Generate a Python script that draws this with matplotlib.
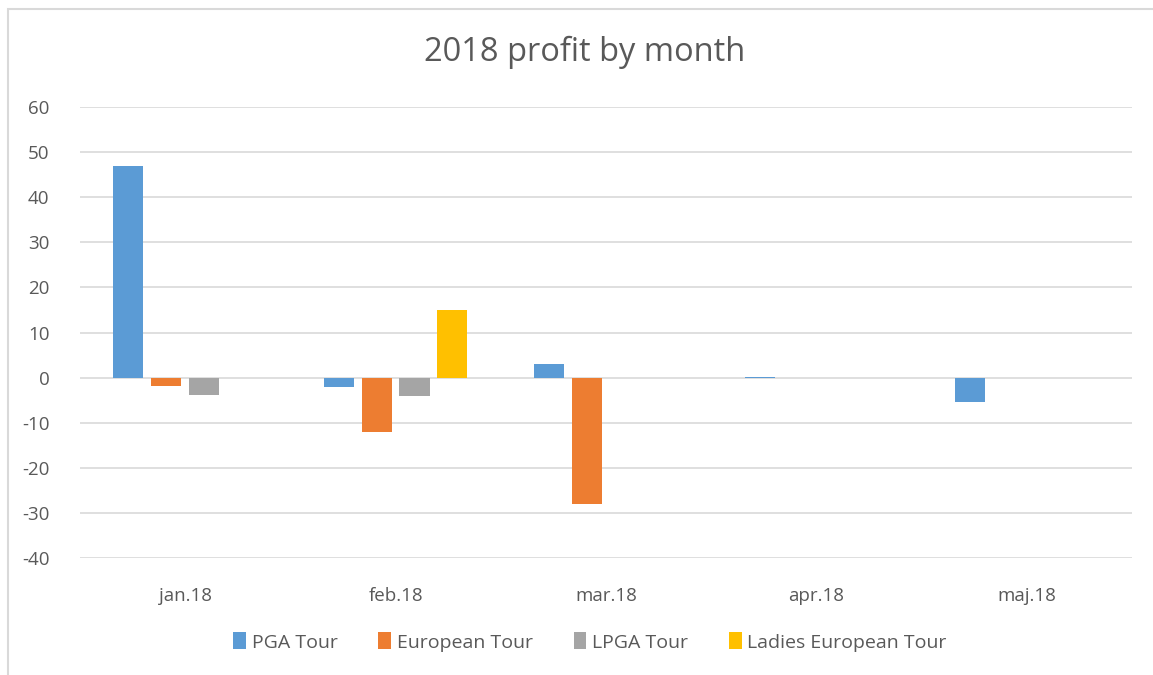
import matplotlib.pyplot as plt
import numpy as np

# datos
months = ['jan.18', 'feb.18', 'mar.18', 'apr.18', 'maj.18']
pga_tour = [47, -2.1, 3, 0.15, -5.3]
european_tour = [-1.9, -12, -28, 0, 0]
lpga_tour = [-3.8, -4, 0, 0, 0]
ladies_european_tour = [0, 15, 0, 0, 0]

series = ['PGA Tour', 'European Tour', 'LPGA Tour', 'Ladies European Tour']
colores = ['#5b9bd5', '#ed7d31', '#a5a5a5', '#ffc000']

plt.rcParams['font.family'] = ['Open Sans', 'DejaVu Sans']
plt.rcParams['axes.unicode_minus'] = False

fig = plt.figure(figsize=(11.53, 6.75), dpi=100)
ax = fig.add_axes([80 / 1153, 1 - 558 / 675, (1132 - 80) / 1153, (558 - 107) / 675])

x = np.arange(len(months))
ancho = 0.143
paso = 0.18
valores = [pga_tour, european_tour, lpga_tour, ladies_european_tour]
for i, (nombre, vals) in enumerate(zip(series, valores)):
    ax.bar(x + (i - 1.5) * paso, vals, width=ancho, color=colores[i], label=nombre, zorder=3)

ax.set_xlim(-0.5, 4.5)
ax.set_ylim(-40, 60)
ax.set_yticks(np.arange(-40, 61, 10))
ax.set_xticks(x)
ax.set_xticklabels(months)
ax.grid(axis='y', color='#d9d9d9', linewidth=1.2, zorder=0)
for s in ax.spines.values():
    s.set_visible(False)
ax.tick_params(length=0, labelsize=13.5, colors='#595959')
ax.tick_params(axis='x', pad=21)
ax.tick_params(axis='y', pad=22)

fig.text(585 / 1153, 1 - 52 / 675, '2018 profit by month', ha='center', va='center',
         fontsize=23.5, color='#595959')

ax.legend(loc='center', bbox_to_anchor=((590 - 80) / 1052, (558 - 642) / (558 - 107)), ncol=4,
          frameon=False, fontsize=14, labelcolor='#595959', handlelength=0.65,
          handleheight=0.95, handletextpad=0.3, columnspacing=2.1)

# borde del grafico
borde = plt.Rectangle((8 / 1153, -0.1), 1.2, 1 - 9 / 675 + 0.1, transform=fig.transFigure,
                      fill=False, edgecolor='#d9d9d9', linewidth=1.5)
fig.patches.append(borde)

fig.savefig('out.png', dpi=100)
